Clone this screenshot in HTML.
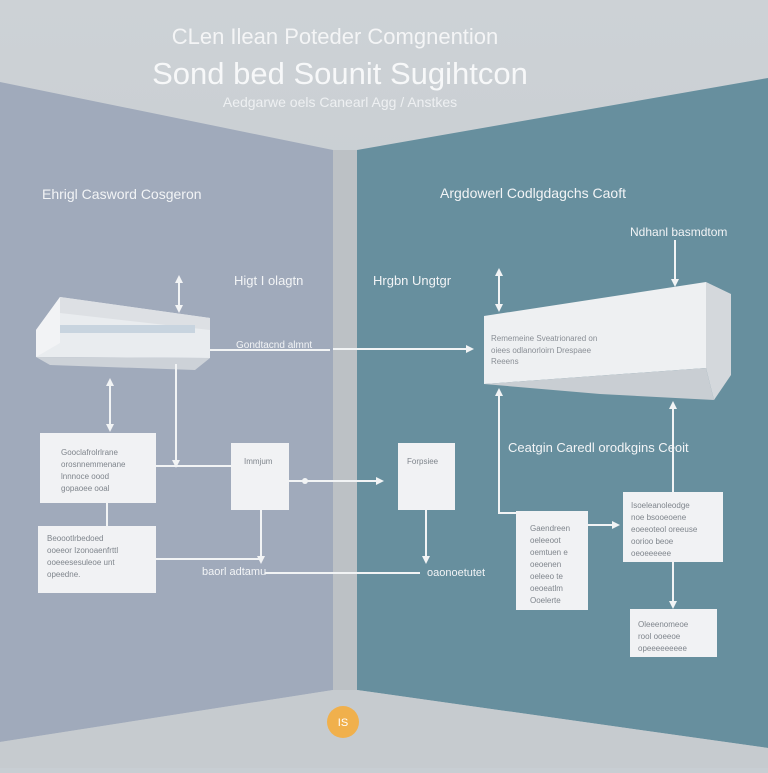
<!DOCTYPE html>
<html><head><style>body{margin:0;width:768px;height:768px;overflow:hidden;background:#c8ced3}</style></head><body>
<svg width="768" height="768" viewBox="0 0 768 768" xmlns="http://www.w3.org/2000/svg" font-family="Liberation Sans, sans-serif">
<defs>
<marker id="a" markerWidth="8" markerHeight="8" refX="6" refY="4" orient="auto-start-reverse" markerUnits="userSpaceOnUse"><path d="M0,0L8,4L0,8z" fill="#f2f4f5"/></marker>
<linearGradient id="bg" x1="0" y1="0" x2="0" y2="1"><stop offset="0" stop-color="#cdd2d6"/><stop offset="1" stop-color="#c0c6cb"/></linearGradient>
</defs>
<rect width="768" height="768" fill="url(#bg)"/>
<polygon points="0,82 333,150 333,690 0,742" fill="#a0aabb"/>
<polygon points="333,150 357,150 357,690 333,690" fill="#bcc1c5"/>
<polygon points="357,150 768,78 768,748 357,690" fill="#678f9e"/>
<polygon points="0,742 333,690 357,690 768,748 768,768 0,768" fill="#c6cbcf"/>
<g fill="#fff" text-anchor="middle">
<text x="335" y="44" font-size="22" fill="#f4f5f6">CLen Ilean Poteder Comgnention</text>
<text x="340" y="84" font-size="31" fill="#f7f8f9">Sond bed Sounit Sugihtcon</text>
<text x="340" y="107" font-size="14" fill="#eef0f2">Aedgarwe oels Canearl Agg / Anstkes</text>
</g>
<g font-size="14" fill="#f2f4f6">
<text x="42" y="199">Ehrigl Casword Cosgeron</text>
<text x="440" y="198">Argdowerl Codlgdagchs Caoft</text>
<text x="630" y="236" font-size="12">Ndhanl basmdtom</text>
<text x="234" y="285" font-size="13">Higt I olagtn</text>
<text x="373" y="285" font-size="13">Hrgbn Ungtgr</text>
<text x="236" y="348" font-size="10">Gondtacnd almnt</text>
<text x="508" y="452" font-size="13">Ceatgin Caredl orodkgins Ceoit</text>
<text x="202" y="575" font-size="11">baorl adtamu</text>
<text x="427" y="576" font-size="11">oaonoetutet</text>
</g>
<polygon points="36,330 60,297 210,318 210,358 36,357" fill="#e9ecef"/>
<polygon points="36,330 60,297 60,343 36,357" fill="#f2f3f5"/>
<polygon points="60,297 210,318 210,330 60,313" fill="#dde0e4"/>
<rect x="60" y="325" width="135" height="8" fill="#c8d4df"/>
<polygon points="36,357 210,358 195,370 50,365" fill="#cdd2d8"/>
<g stroke="#f2f4f5" stroke-width="2" fill="none">
<line x1="179" y1="277" x2="179" y2="311" marker-start="url(#a)" marker-end="url(#a)"/>
<line x1="110" y1="380" x2="110" y2="430" marker-start="url(#a)" marker-end="url(#a)"/>
<line x1="176" y1="364" x2="176" y2="466" marker-end="url(#a)"/>
<line x1="156" y1="466" x2="232" y2="466"/>
<line x1="210" y1="350" x2="330" y2="350"/>
<line x1="333" y1="349" x2="472" y2="349" marker-end="url(#a)"/>
<line x1="289" y1="481" x2="382" y2="481" marker-end="url(#a)"/>
<line x1="107" y1="503" x2="107" y2="526"/>
<line x1="156" y1="559" x2="262" y2="559"/>
<line x1="261" y1="510" x2="261" y2="562" marker-end="url(#a)"/>
<line x1="265" y1="573" x2="420" y2="573"/>
<line x1="426" y1="510" x2="426" y2="562" marker-end="url(#a)"/>
<line x1="499" y1="270" x2="499" y2="310" marker-start="url(#a)" marker-end="url(#a)"/>
<line x1="675" y1="240" x2="675" y2="285" marker-end="url(#a)"/>
<line x1="499" y1="514" x2="499" y2="390" marker-end="url(#a)"/>
<line x1="499" y1="513" x2="516" y2="513"/>
<line x1="588" y1="525" x2="618" y2="525" marker-end="url(#a)"/>
<line x1="673" y1="492" x2="673" y2="403" marker-end="url(#a)"/>
<line x1="673" y1="562" x2="673" y2="607" marker-end="url(#a)"/>
</g>
<circle cx="305" cy="481" r="3" fill="#f2f4f5"/>
<polygon points="484,316 706,282 706,368 484,384" fill="#eef0f2"/>
<polygon points="706,282 731,294 731,375 714,400 706,368" fill="#d4d8dc"/>
<polygon points="484,384 706,368 714,400 600,394" fill="#c9ced3"/>
<g font-size="8" fill="#8a8f96">
<text x="491" y="341">Rememeine Sveatrionared on</text>
<text x="491" y="353">oiees odlanorloirn Drespaee</text>
<text x="491" y="364">Reeens</text>
</g>
<g fill="#f1f2f4">
<rect x="40" y="433" width="116" height="70"/>
<rect x="38" y="526" width="118" height="67"/>
<rect x="231" y="443" width="58" height="67"/>
<rect x="398" y="443" width="57" height="67"/>
<rect x="516" y="511" width="72" height="99"/>
<rect x="623" y="492" width="100" height="70"/>
<rect x="630" y="609" width="87" height="48"/>
</g>
<g font-size="8" fill="#7f858c">
<text x="61" y="455">Gooclafrolrlrane</text><text x="61" y="467">orosnnemmenane</text><text x="61" y="479">lnnnoce oood</text><text x="61" y="491">gopaoee ooal</text>
<text x="47" y="541">Beoootlrbedoed</text><text x="47" y="553">ooeeor Izonoaenfrttl</text><text x="47" y="565">ooeeesesuleoe unt</text><text x="47" y="577">opeedne.</text>
<text x="244" y="464">Immjum</text>
<text x="407" y="464">Forpsiee</text>
<text x="530" y="531">Gaendreen</text><text x="530" y="543">oeleeoot</text><text x="530" y="555">oemtuen e</text><text x="530" y="567">oeoenen</text><text x="530" y="579">oeleeo te</text><text x="530" y="591">oeoeatlm</text><text x="530" y="603">Ooelerte</text>
<text x="631" y="508">Isoeleanoleodge</text><text x="631" y="520">noe bsooeoene</text><text x="631" y="532">eoeeoteol oreeuse</text><text x="631" y="544">oorioo beoe</text><text x="631" y="556">oeoeeeeee</text>
<text x="638" y="627">Oleeenomeoe</text><text x="638" y="639">rool ooeeoe</text><text x="638" y="651">opeeeeeeeee</text>
</g>
<circle cx="343" cy="722" r="16" fill="#f0b04c"/>
<text x="343" y="726" font-size="11" fill="#fff" text-anchor="middle">IS</text>
</svg>
</body></html>
